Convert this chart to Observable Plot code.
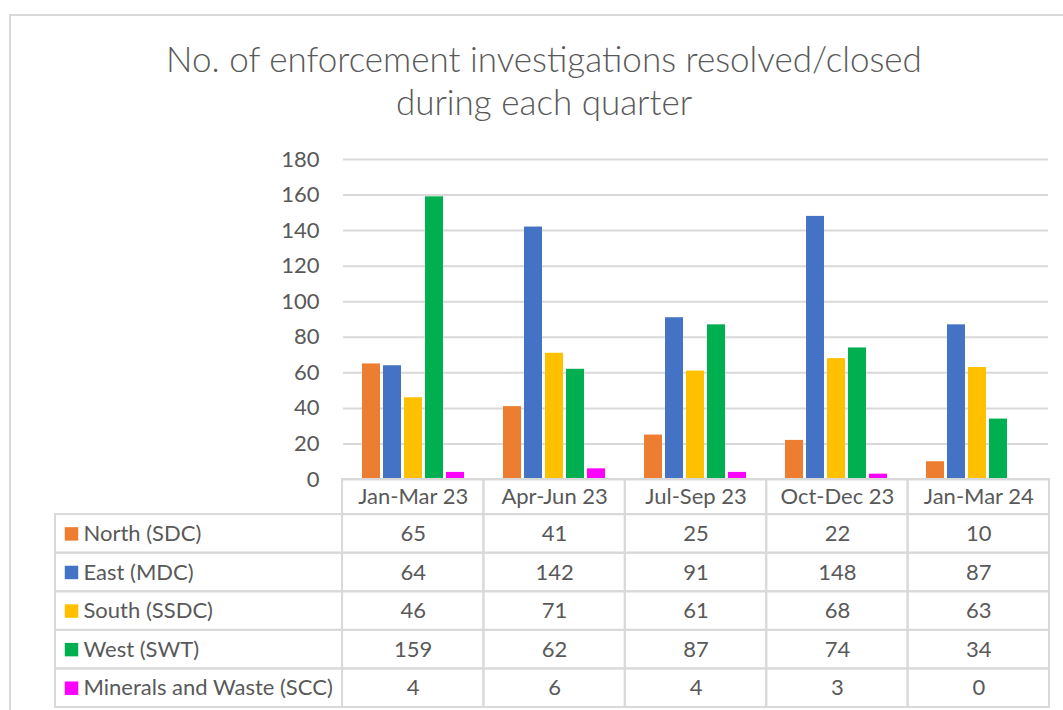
<!DOCTYPE html>
<html>
<head>
<meta charset="utf-8">
<script src="https://cdn.jsdelivr.net/npm/d3@7"></script>
<script src="https://cdn.jsdelivr.net/npm/@observablehq/plot@0.6"></script>
<style>
  html, body { margin: 0; padding: 0; background: #fff; overflow: hidden; }
  #wrap { position: relative; width: 1063px; height: 710px; overflow: hidden; font-family: Lato, "Open Sans", sans-serif; color: #595959; }
  #frame { position: absolute; left: 9px; top: 14px; width: 1100px; height: 760px; border: 2px solid #d9d9d9; box-sizing: border-box; }
  #title { position: absolute; left: 44px; top: 37px; width: 1000px; text-align: center; font-size: 35px; font-weight: 300; line-height: 43px; color: #595959; }
  .layer { position: absolute; left: 0; top: 0; }
</style>
</head>
<body>
<div id="wrap">
  <div id="frame"></div>
  <div id="title">No. of enforcement investigations resolved/closed<br>during each quarter</div>
  <div id="chart" class="layer"></div>
  <div id="table" class="layer"></div>
</div>
<script>
const quarters = ["Jan-Mar 23", "Apr-Jun 23", "Jul-Sep 23", "Oct-Dec 23", "Jan-Mar 24"];
const seriesNames = ["North (SDC)", "East (MDC)", "South (SSDC)", "West (SWT)", "Minerals and Waste (SCC)"];
const north = [65, 41, 25, 22, 10];
const east = [64, 142, 91, 148, 87];
const south = [46, 71, 61, 68, 63];
const west = [159, 62, 87, 74, 34];
const minerals = [4, 6, 4, 3, 0];
const colors = ["#ED7D31", "#4472C4", "#FFC000", "#00B050", "#FF00FF"];
const yTicks = [0, 20, 40, 60, 80, 100, 120, 140, 160, 180];

const seriesValues = [north, east, south, west, minerals];
const data = [];
seriesNames.forEach((s, si) => {
  quarters.forEach((q, qi) => {
    data.push({series: s, quarter: q, value: seriesValues[si][qi], si, qi});
  });
});

const fs = 22;
const font = {fontFamily: "Lato, 'Open Sans', sans-serif", fontSize: fs + "px", color: "#595959", background: "transparent", overflow: "visible"};

const chart = Plot.plot({
  width: 1063,
  height: 480,
  marginTop: 159,
  marginBottom: 1,
  marginLeft: 342,
  marginRight: 14,
  style: font,
  fx: {domain: quarters, padding: 0, axis: null},
  x: {domain: seriesNames, paddingInner: 0.12, paddingOuter: 0.82, axis: null},
  y: {domain: [0, 180], axis: null},
  color: {domain: seriesNames, range: colors},
  marks: [
    Plot.gridY(yTicks, {stroke: "#d9d9d9", strokeOpacity: 1, strokeWidth: 2}),
    Plot.axisY(yTicks, {tickSize: 0, tickPadding: 24, fontSize: fs, fill: "#595959", label: null}),
    Plot.barY(data, {fx: "quarter", x: "series", y: "value", fill: "series"})
  ]
});
document.getElementById("chart").appendChild(chart);

// data table below the chart
const legendSpan = 2.03;   // legend column width in units of a quarter column
const headerSpan = 0.91;   // header row height in units of a data row
const cells = [];
quarters.forEach((q, qi) => {
  cells.push({x1: qi, x2: qi + 1, y1: -headerSpan, y2: 0});
  seriesNames.forEach((s, si) => cells.push({x1: qi, x2: qi + 1, y1: si, y2: si + 1}));
});
seriesNames.forEach((s, si) => cells.push({x1: -legendSpan, x2: 0, y1: si, y2: si + 1}));

const headerTexts = quarters.map((q, qi) => ({label: q, x: qi + 0.5, y: -headerSpan / 2}));
const valueTexts = data.map(d => ({label: String(d.value), x: d.qi + 0.5, y: d.si + 0.5}));
const legendRows = seriesNames.map((s, si) => ({series: s, x: -legendSpan, y: si + 0.5}));

const table = Plot.plot({
  width: 1063,
  height: 710,
  marginTop: 479,
  marginBottom: 3,
  marginLeft: 55,
  marginRight: 14,
  style: font,
  x: {domain: [-legendSpan, quarters.length], axis: null},
  y: {domain: [-headerSpan, seriesNames.length], reverse: true, axis: null},
  color: {domain: seriesNames, range: colors},
  marks: [
    Plot.rect(cells, {x1: "x1", x2: "x2", y1: "y1", y2: "y2", fill: "none", stroke: "#d9d9d9", strokeWidth: 2}),
    Plot.text(headerTexts, {x: "x", y: "y", text: "label", fontSize: fs, fill: "#595959"}),
    Plot.text(valueTexts, {x: "x", y: "y", text: "label", fontSize: fs, fill: "#595959"}),
    Plot.dot(legendRows, {x: "x", y: "y", dx: 16, symbol: "square", r: 7.6, fill: "series", stroke: "none"}),
    Plot.text(legendRows, {x: "x", y: "y", dx: 28, text: "series", textAnchor: "start", fontSize: fs, fill: "#595959"})
  ]
});
document.getElementById("table").appendChild(table);
</script>
</body>
</html>
